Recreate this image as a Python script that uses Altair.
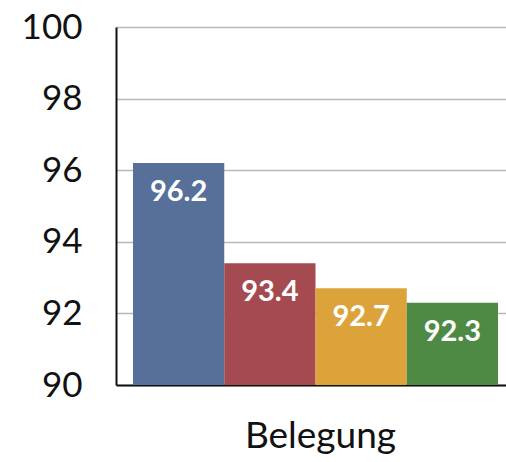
import altair as alt
import pandas as pd

series = ["A", "B", "C", "D"]
values = [96.2, 93.4, 92.7, 92.3]
labels = ["96.2", "93.4", "92.7", "92.3"]
colors = ["#56709a", "#a64a52", "#dca33a", "#4f8a45"]
y_ticks = [90, 92, 94, 96, 98, 100]
category = "Belegung"

df = pd.DataFrame({"series": series, "value": values, "label": labels})

xscale = alt.Scale(domain=series, paddingInner=0, paddingOuter=0.137, align=0.68)
yscale = alt.Scale(domain=[90, 100], nice=False, zero=False)

base = alt.Chart(df)

bars = base.mark_bar(clip=True).encode(
    x=alt.X("series:N", scale=xscale, sort=series,
            axis=alt.Axis(title=category, labels=False, ticks=False,
                          domainColor="#111111", domainWidth=2,
                          titleFont="Lato", titleFontSize=37, titleFontWeight="normal",
                          titleColor="#111111", titlePadding=33, titleX=204,
                          titleAlign="center")),
    y=alt.Y("value:Q", scale=yscale,
            axis=alt.Axis(title=None, values=y_ticks, ticks=False,
                          labelFont="Lato", labelFontSize=35, labelColor="#111111",
                          labelPadding=34, domainColor="#111111", domainWidth=2,
                          grid=True, gridColor="#b8b8b8", gridWidth=1.5)),
    y2=alt.datum(90),
    color=alt.Color("series:N", scale=alt.Scale(domain=series, range=colors), legend=None),
)

text = base.mark_text(font="Lato", fontSize=29, fontWeight="bold", color="white",
                      baseline="middle", dy=29).encode(
    x=alt.X("series:N", scale=xscale, sort=series),
    y=alt.Y("value:Q", scale=yscale),
    text="label:N",
)

chart = (bars + text).properties(
    width=390, height=358,
    autosize=alt.AutoSizeParams(type="none"),
    padding={"left": 116, "top": 27, "right": 0, "bottom": 77},
).configure_view(stroke=None).configure_axis(labelFontWeight="normal")

chart.save("out.html", embed_options={"renderer": "svg", "actions": False})
